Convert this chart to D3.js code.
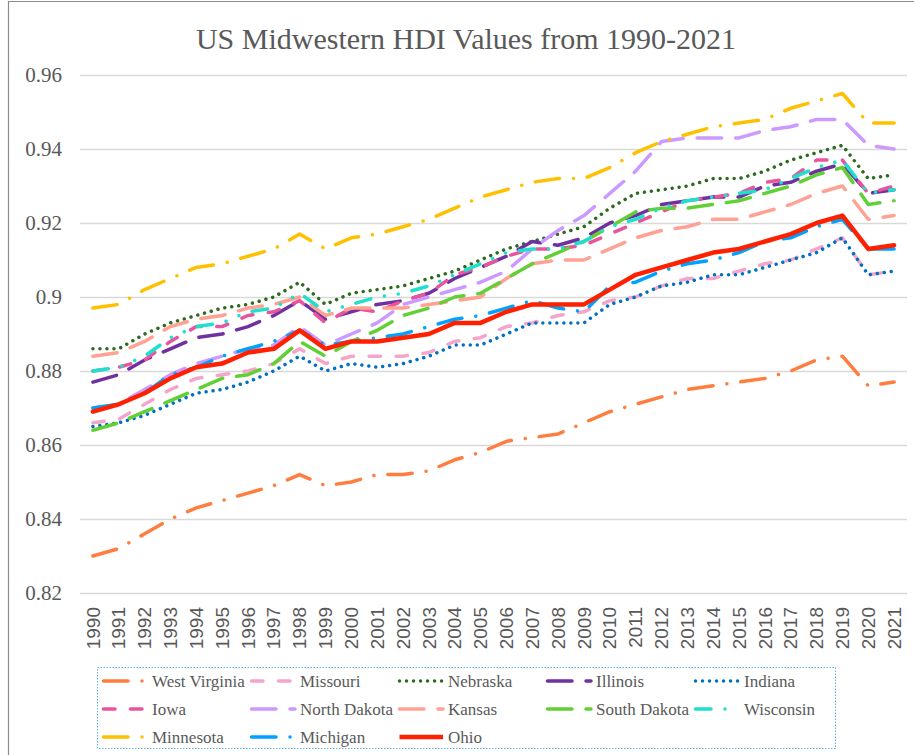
<!DOCTYPE html>
<html lang="en">
<head>
<meta charset="utf-8">
<title>US Midwestern HDI Values from 1990-2021</title>
<script src="https://d3js.org/d3.v7.min.js"></script>
<style>
  body { margin: 0; background: #fff; }
  svg { display: block; }
</style>
</head>
<body>
<script>
// categories
var years = ["1990","1991","1992","1993","1994","1995","1996","1997","1998","1999","2000",
  "2001","2002","2003","2004","2005","2006","2007","2008","2009","2010","2011","2012",
  "2013","2014","2015","2016","2017","2018","2019","2020","2021"];

var yTicks = [0.82, 0.84, 0.86, 0.88, 0.9, 0.92, 0.94, 0.96];

// series values
var westVirginia = [0.830,0.832,0.836,0.840,0.843,0.845,0.847,0.849,0.852,0.849,0.850,0.852,0.852,0.853,0.856,0.858,0.861,0.862,0.863,0.866,0.869,0.871,0.873,0.875,0.876,0.877,0.878,0.880,0.883,0.884,0.876,0.877];
var missouri = [0.866,0.867,0.871,0.875,0.878,0.879,0.880,0.882,0.886,0.882,0.884,0.884,0.884,0.885,0.888,0.889,0.892,0.893,0.895,0.896,0.899,0.900,0.903,0.905,0.905,0.907,0.909,0.910,0.913,0.916,0.906,0.907];
var nebraska = [0.886,0.886,0.890,0.893,0.895,0.897,0.898,0.900,0.904,0.898,0.901,0.902,0.903,0.905,0.907,0.910,0.913,0.915,0.917,0.919,0.924,0.928,0.929,0.930,0.932,0.932,0.934,0.937,0.939,0.941,0.932,0.933];
var illinois = [0.877,0.879,0.883,0.886,0.889,0.890,0.892,0.895,0.899,0.894,0.896,0.898,0.899,0.901,0.905,0.908,0.911,0.915,0.914,0.916,0.920,0.922,0.925,0.926,0.927,0.927,0.930,0.931,0.934,0.936,0.928,0.929];
var indiana = [0.865,0.866,0.868,0.871,0.874,0.875,0.877,0.880,0.884,0.880,0.882,0.881,0.882,0.884,0.887,0.887,0.890,0.893,0.893,0.893,0.898,0.900,0.903,0.904,0.906,0.906,0.908,0.910,0.912,0.916,0.906,0.907];
var iowa = [0.880,0.881,0.883,0.888,0.892,0.892,0.895,0.896,0.899,0.893,0.897,0.896,0.899,0.901,0.906,0.908,0.911,0.913,0.913,0.914,0.917,0.920,0.923,0.926,0.927,0.928,0.931,0.932,0.937,0.937,0.928,0.930];
var northDakota = [0.870,0.871,0.875,0.879,0.882,0.884,0.886,0.887,0.892,0.887,0.890,0.893,0.898,0.900,0.902,0.904,0.907,0.913,0.918,0.922,0.928,0.934,0.942,0.943,0.943,0.943,0.945,0.946,0.948,0.948,0.941,0.940];
var kansas = [0.884,0.885,0.888,0.892,0.894,0.895,0.897,0.898,0.900,0.895,0.897,0.897,0.897,0.898,0.899,0.900,0.905,0.909,0.910,0.910,0.913,0.916,0.918,0.919,0.921,0.921,0.923,0.925,0.928,0.930,0.921,0.922];
var southDakota = [0.864,0.866,0.869,0.872,0.875,0.878,0.879,0.882,0.888,0.884,0.888,0.891,0.895,0.897,0.900,0.901,0.905,0.909,0.912,0.915,0.919,0.923,0.924,0.924,0.925,0.926,0.928,0.930,0.933,0.935,0.925,0.926];
var wisconsin = [0.880,0.881,0.884,0.889,0.892,0.893,0.896,0.897,0.901,0.896,0.898,0.900,0.901,0.903,0.906,0.909,0.912,0.913,0.913,0.915,0.919,0.921,0.924,0.926,0.927,0.928,0.929,0.932,0.935,0.937,0.928,0.929];
var minnesota = [0.897,0.898,0.902,0.905,0.908,0.909,0.911,0.913,0.917,0.913,0.916,0.917,0.919,0.921,0.924,0.927,0.929,0.931,0.932,0.932,0.935,0.939,0.942,0.944,0.946,0.947,0.948,0.951,0.953,0.955,0.947,0.947];
var michigan = [0.870,0.871,0.874,0.879,0.881,0.884,0.886,0.888,0.891,0.887,0.888,0.889,0.890,0.892,0.894,0.895,0.897,0.899,0.897,0.896,0.903,0.904,0.907,0.909,0.910,0.912,0.915,0.916,0.919,0.921,0.913,0.913];
var ohio = [0.869,0.871,0.874,0.878,0.881,0.882,0.885,0.886,0.891,0.886,0.888,0.888,0.889,0.890,0.893,0.893,0.896,0.898,0.898,0.898,0.902,0.906,0.908,0.910,0.912,0.913,0.915,0.917,0.920,0.922,0.913,0.914];

//dash styles (round caps)
var LONGDASH = "24.5,14";
var DASH = "11.5,15.5";
var LONGDASHDOT = "24.5,14,0.01,14";
var DASHDOTDOT = "15.5,14,0.01,14,0.01,14";
var ROUNDDOT = "0.01,7";

var series = [
  {name: "West Virginia", values: westVirginia, color: "#ff7e3f", dash: LONGDASHDOT},
  {name: "Missouri", values: missouri, color: "#f5a5cb", dash: DASH},
  {name: "Nebraska", values: nebraska, color: "#2b6b1e", dash: ROUNDDOT},
  {name: "Illinois", values: illinois, color: "#7030a0", dash: LONGDASH},
  {name: "Indiana", values: indiana, color: "#0070c0", dash: ROUNDDOT},
  {name: "Iowa", values: iowa, color: "#e8559d", dash: DASH},
  {name: "North Dakota", values: northDakota, color: "#cc99ff", dash: LONGDASH},
  {name: "Kansas", values: kansas, color: "#ffa193", dash: LONGDASH},
  {name: "South Dakota", values: southDakota, color: "#63cf36", dash: LONGDASH},
  {name: "Wisconsin", values: wisconsin, color: "#1fe0cc", dash: DASHDOTDOT},
  {name: "Minnesota", values: minnesota, color: "#ffc000", dash: LONGDASHDOT},
  {name: "Michigan", values: michigan, color: "#00a2ff", dash: LONGDASHDOT},
  {name: "Ohio", values: ohio, color: "#ff2000", dash: null}
];

//Width and height, plot area
var w = 914, h = 755;
var plotLeft = 80, plotRight = 907, plotTop = 75, plotBottom = 593;

var svg = d3.select("body").append("svg")
  .attr("width", w)
  .attr("height", h);

//outer chart border
svg.append("path")
  .attr("d", "M8.5," + h + "V1.5H" + w)
  .attr("fill", "none")
  .attr("stroke", "#8c8c8c")
  .attr("stroke-width", 1.2);

//title
svg.append("text")
  .attr("x", 466)
  .attr("y", 49)
  .attr("text-anchor", "middle")
  .attr("font-family", "Georgia, 'Liberation Serif', serif")
  .attr("font-size", 30)
  .attr("fill", "#595959")
  .text("US Midwestern HDI Values from 1990-2021");

var x = d3.scaleBand().domain(years).range([plotLeft, plotRight]);
var y = d3.scaleLinear().domain([0.82, 0.96]).range([plotBottom, plotTop]);

//gridlines + y labels
var yAxis = svg.append("g")
  .attr("transform", "translate(" + plotLeft + ",0)")
  .call(d3.axisLeft(y).tickValues(yTicks).tickSize(-(plotRight - plotLeft)).tickPadding(18)
    .tickFormat(function(d) { return String(+d.toFixed(2)); }));
yAxis.select(".domain").remove();
yAxis.selectAll("line").attr("stroke", "#d9d9d9").attr("stroke-width", 1.5);
yAxis.selectAll("text")
  .attr("font-family", "Georgia, 'Liberation Serif', serif")
  .attr("font-size", 21)
  .attr("fill", "#595959");

//x labels
var xAxis = svg.append("g")
  .attr("transform", "translate(0," + plotBottom + ")")
  .call(d3.axisBottom(x).tickSize(0).tickPadding(0));
xAxis.select(".domain").remove();
xAxis.selectAll("text")
  .attr("transform", "rotate(-90)")
  .attr("x", -14)
  .attr("y", 0)
  .attr("dy", "0.35em")
  .attr("text-anchor", "end")
  .attr("font-family", "'Liberation Sans', Arial, sans-serif")
  .attr("font-size", 19)
  .attr("fill", "#595959");

//lines
var line = d3.line()
  .x(function(d, i) { return x(years[i]) + x.bandwidth() / 2; })
  .y(function(d) { return y(d); });

svg.append("g").selectAll("path")
  .data(series)
  .enter()
  .append("path")
  .attr("d", function(s) { return line(s.values); })
  .attr("fill", "none")
  .attr("stroke", function(s) { return s.color; })
  .attr("stroke-width", function(s) { return s.dash ? 3.5 : 4.5; })
  .attr("stroke-linecap", "round")
  .attr("stroke-linejoin", "round")
  .attr("stroke-dasharray", function(s) { return s.dash; });

//legend
svg.append("rect")
  .attr("x", 97.5).attr("y", 667.5)
  .attr("width", 738).attr("height", 81)
  .attr("fill", "none")
  .attr("stroke", "#5ab4ec")
  .attr("stroke-width", 1)
  .attr("stroke-dasharray", "1.5,1.5");

var legend = svg.append("g").selectAll("g")
  .data(series)
  .enter()
  .append("g")
  .attr("transform", function(s, i) {
    return "translate(" + (102 + (i % 5) * 148) + "," + (681 + Math.floor(i / 5) * 28) + ")";
  });

legend.append("line")
  .attr("x1", 1.5).attr("x2", 45).attr("y1", 0).attr("y2", 0)
  .attr("stroke", function(s) { return s.color; })
  .attr("stroke-width", function(s) { return s.dash ? 3.5 : 4.5; })
  .attr("stroke-linecap", function(s) { return s.dash ? "round" : "butt"; })
  .attr("stroke-dasharray", function(s) { return s.dash; });

legend.append("text")
  .attr("x", 50)
  .attr("y", 0)
  .attr("dy", "0.35em")
  .attr("font-family", "Georgia, 'Liberation Serif', serif")
  .attr("font-size", 17)
  .attr("fill", "#595959")
  .text(function(s) { return s.name; });
</script>
</body>
</html>
